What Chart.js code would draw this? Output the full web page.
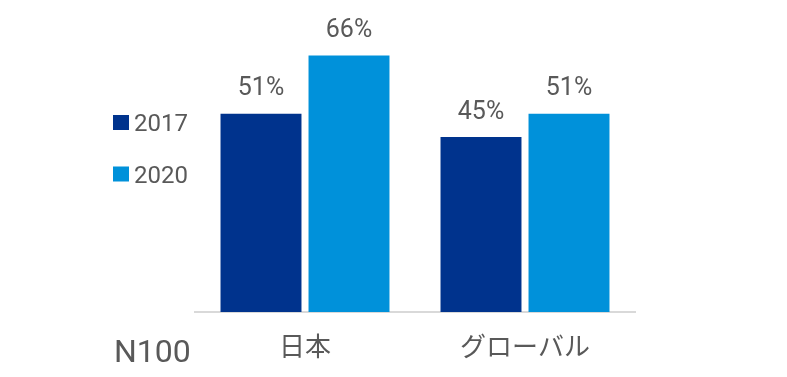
<!DOCTYPE html>
<html>
<head>
<meta charset="utf-8">
<script src="https://cdn.jsdelivr.net/npm/chart.js@4"></script>
<style>
  html, body { margin: 0; padding: 0; background: #fff; }
  #wrap { width: 787px; height: 377px; position: relative; }
</style>
</head>
<body>
<div id="wrap"><canvas id="chart"></canvas></div>
<script>
// data
const categories = ["日本", "グローバル"];
const seriesNames = ["2017", "2020"];
const values2017 = [51, 45];
const values2020 = [66, 51];
const sampleLabel = "N100";

const colors = ["#00338D", "#0091DA"];
const textColor = "#595959";
const fontFamily = "Roboto, 'Noto Sans CJK JP', sans-serif";

// percent labels above the bars
const valueLabels = {
    id: "valueLabels",
    afterDatasetsDraw(chart) {
        const ctx = chart.ctx;
        ctx.save();
        ctx.font = "25px " + fontFamily;
        ctx.fillStyle = textColor;
        ctx.textAlign = "center";
        ctx.textBaseline = "alphabetic";
        chart.data.datasets.forEach((ds, i) => {
            const meta = chart.getDatasetMeta(i);
            meta.data.forEach((bar, j) => {
                ctx.fillText(ds.data[j] + "%", bar.x, bar.y - 18.5);
            });
        });
        ctx.restore();
    }
};

// legend on the left + sample size note
const sideLegend = {
    id: "sideLegend",
    afterDraw(chart) {
        const ctx = chart.ctx;
        ctx.save();
        ctx.font = "24px " + fontFamily;
        ctx.textBaseline = "alphabetic";
        ctx.textAlign = "left";
        chart.data.datasets.forEach((ds, i) => {
            const top = 115 + i * 51.5;
            ctx.fillStyle = ds.backgroundColor;
            ctx.fillRect(113, top, 16, 15);
            ctx.fillStyle = textColor;
            ctx.fillText(ds.label, 134, top + 16);
        });
        ctx.font = "32px " + fontFamily;
        ctx.fillText(sampleLabel, 114, 362);
        ctx.restore();
    }
};

new Chart(document.getElementById("chart"), {
    type: "bar",
    data: {
        labels: categories,
        datasets: [
            { label: seriesNames[0], data: values2017, backgroundColor: colors[0] },
            { label: seriesNames[1], data: values2020, backgroundColor: colors[1] }
        ]
    },
    options: {
        responsive: true,
        maintainAspectRatio: false,
        animation: false,
        categoryPercentage: 0.8,
        barPercentage: 0.92,
        layout: { padding: { left: 195, right: 152, top: 1, bottom: 12 } },
        plugins: {
            legend: { display: false },
            tooltip: { enabled: false }
        },
        scales: {
            x: {
                afterFit(scale) { scale.height = 53; },
                grid: { display: false, drawTicks: false },
                border: { display: true, color: "#d9d9d9", width: 2 },
                ticks: {
                    padding: 22,
                    color: textColor,
                    font: { size: 26, family: fontFamily }
                }
            },
            y: {
                display: false,
                min: 0,
                max: 80
            }
        }
    },
    plugins: [valueLabels, sideLegend]
});
</script>
</body>
</html>
